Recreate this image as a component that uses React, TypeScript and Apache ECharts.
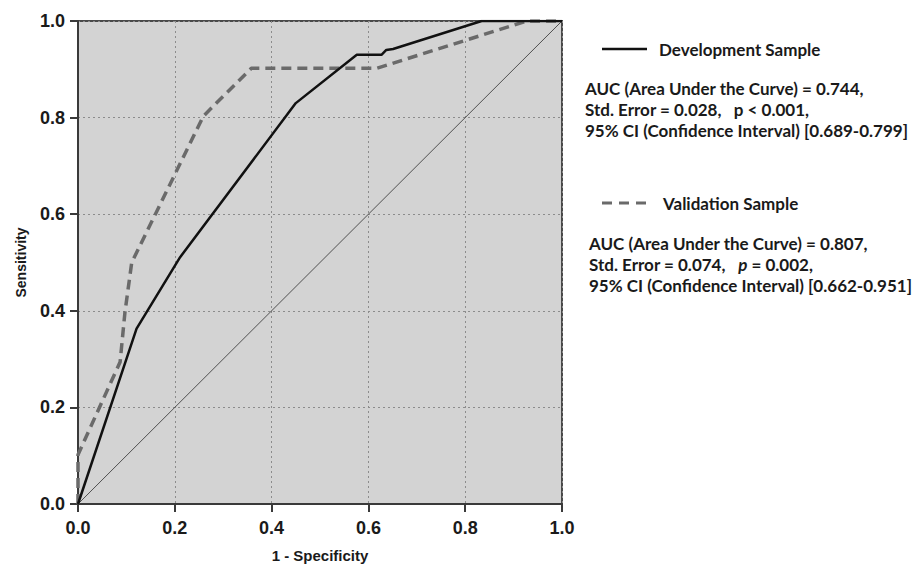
import React, { useEffect, useRef } from "react";
import * as echarts from "echarts";

// 1 - Specificity (x) and Sensitivity (y) values
const devFpr = [0, 0.121, 0.211, 0.45, 0.576, 0.627, 0.637, 0.651, 0.834, 1];
const devTpr = [0, 0.363, 0.511, 0.83, 0.93, 0.93, 0.94, 0.942, 1, 1];
const valFpr = [0, 0, 0.087, 0.097, 0.111, 0.259, 0.358, 0.617, 0.927, 1];
const valTpr = [0, 0.102, 0.294, 0.397, 0.5, 0.803, 0.902, 0.902, 1, 1];
const refFpr = [0, 1];
const refTpr = [0, 1];

const seriesNames = ["Development Sample", "Validation Sample"];
const devStats = [
  "AUC (Area Under the Curve) = 0.744,",
  "Std. Error = 0.028,   p < 0.001,",
  "95% CI (Confidence Interval) [0.689-0.799]",
];
const valStats = [
  "AUC (Area Under the Curve) = 0.807,",
  "{n|Std. Error = 0.074,   }{i|p}{n| = 0.002,}",
  "95% CI (Confidence Interval) [0.662-0.951]",
];
const xAxisName = "1 - Specificity";
const yAxisName = "Sensitivity";

const zip = (a: number[], b: number[]) => a.map((v, i) => [v, b[i]]);

const LEG_FONT = "Lato";
const LEG_SIZE = 17;

export default function App() {
  const ref = useRef<HTMLDivElement>(null);
  useEffect(() => {
    if (!ref.current) return;
    const chart = echarts.init(ref.current, undefined, { renderer: "svg" });
    const txt = (text: string, x: number, y: number, rich = false) => ({
      type: "text",
      x,
      y,
      style: {
        text,
        fill: "#1a1a1a",
        fontFamily: LEG_FONT,
        fontWeight: "bold",
        fontSize: LEG_SIZE,
        textVerticalAlign: "middle",
        verticalAlign: "middle",
        ...(rich
          ? {
              rich: {
                n: { fontFamily: LEG_FONT, fontWeight: "bold", fontSize: LEG_SIZE, fill: "#1a1a1a" },
                i: { fontFamily: LEG_FONT, fontWeight: "bold", fontStyle: "italic", fontSize: LEG_SIZE, fill: "#1a1a1a" },
              },
            }
          : {}),
      },
    });
    const axisCommon = {
      type: "value",
      min: 0,
      max: 1,
      interval: 0.2,
      axisLine: { show: true, lineStyle: { color: "#3a3a3a", width: 2 } },
      axisTick: { show: true, length: 8, lineStyle: { color: "#3a3a3a", width: 2 } },
      splitLine: { show: true, lineStyle: { color: "#8c8c8c", width: 1, type: [2, 3] } },
      axisLabel: {
        color: "#1a1a1a",
        fontFamily: "Liberation Sans, Arial, sans-serif",
        fontWeight: "bold",
        fontSize: 18,
        formatter: (v: number) => v.toFixed(1),
      },
      nameLocation: "middle",
      nameTextStyle: {
        color: "#1a1a1a",
        fontFamily: "Liberation Sans, Arial, sans-serif",
        fontWeight: "bold",
      },
    };
    chart.setOption({
      animation: false,
      grid: {
        left: 78,
        top: 21,
        width: 484,
        height: 485,
        show: true,
        backgroundColor: "#d3d3d3",
        borderColor: "#4a4a4a",
        borderWidth: 2,
      },
      xAxis: {
        ...axisCommon,
        name: xAxisName,
        nameGap: 44,
        nameTextStyle: { ...axisCommon.nameTextStyle, fontSize: 15 },
        axisLabel: { ...axisCommon.axisLabel, margin: 15 },
      },
      yAxis: {
        ...axisCommon,
        name: yAxisName,
        nameGap: 50,
        nameTextStyle: { ...axisCommon.nameTextStyle, fontSize: 14 },
        axisLabel: { ...axisCommon.axisLabel, margin: 13 },
      },
      series: [
        {
          type: "line",
          name: "Reference",
          data: zip(refFpr, refTpr),
          showSymbol: false,
          lineStyle: { color: "#505050", width: 1 },
          z: 2,
        },
        {
          type: "line",
          name: seriesNames[1],
          data: zip(valFpr, valTpr),
          showSymbol: false,
          lineStyle: { color: "#6a6a6a", width: 3.5, type: [10, 6] },
          z: 3,
        },
        {
          type: "line",
          name: seriesNames[0],
          data: zip(devFpr, devTpr),
          showSymbol: false,
          lineStyle: { color: "#111111", width: 2.5 },
          z: 4,
        },
      ],
      graphic: [
        {
          type: "line",
          shape: { x1: 602, y1: 49, x2: 647, y2: 49 },
          style: { stroke: "#111", lineWidth: 2.5 },
        },
        txt(seriesNames[0], 659, 49),
        txt(devStats[0], 585, 88),
        txt(devStats[1], 585, 109),
        txt(devStats[2], 585, 130),
        {
          type: "line",
          shape: { x1: 602, y1: 203, x2: 650, y2: 203 },
          style: { stroke: "#6a6a6a", lineWidth: 3, lineDash: [10, 7] },
        },
        txt(seriesNames[1], 663, 203),
        txt(valStats[0], 589, 243),
        txt(valStats[1], 589, 264, true),
        txt(valStats[2], 589, 285),
      ],
    });
    return () => chart.dispose();
  }, []);
  return (
    <div
      ref={ref}
      style={{ position: "fixed", left: 0, top: 0, width: 912, height: 568, background: "#fff" }}
    />
  );
}
